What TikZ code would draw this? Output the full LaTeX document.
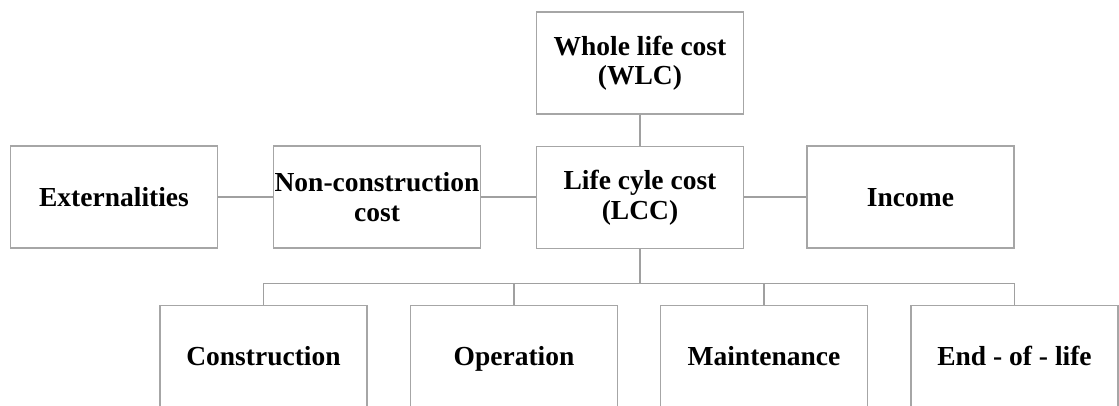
\documentclass[tikz,border=0pt]{standalone}
\usepackage{fontspec}
\setmainfont{Liberation Serif}
\definecolor{edgegray}{HTML}{A6A6A6}
\definecolor{linkgray}{HTML}{A0A0A0}
\tikzset{
  box/.style={draw=edgegray, line width=1.7pt, rectangle, fill=white,
    minimum width=207pt, minimum height=102pt, inner sep=0pt,
    align=center, font=\bfseries\fontsize{27.5}{29.5}\selectfont},
  oneline/.style={box, text height=18.2pt, text depth=0pt},
  link/.style={draw=linkgray, line width=1.7pt}
}
\begin{document}
\begin{tikzpicture}[x=1pt,y=-1pt]
  \clip (0,0) rectangle (1119,405);
  \fill[white] (0,0) rectangle (1119,405);

  % cost hierarchy
  \node[box] (wlc) at (640,63) {Whole life cost\\(WLC)};
  \node[oneline] (ext) at (114,197) {Externalities};
  \node[box] (nc)  at (377,197) {Non-construction\\cost};
  \node[box] (lcc) at (640,197.5) {Life cyle cost\\(LCC)};
  \node[oneline] (inc) at (910.5,197) {Income};

  % life cycle stages
  \node[oneline] (con) at (263.5,356.5) {Construction};
  \node[oneline] (op)  at (514,356.5) {Operation};
  \node[oneline] (mt)  at (764,356.5) {Maintenance};
  \node[oneline] (eol) at (1014.5,356.5) {End - of - life};

  \coordinate (bus) at (640,283.5);

  \draw[link] (wlc.south) -- (lcc.north);
  \draw[link] (ext.east) -- (nc.west);
  \draw[link] (nc.east) -- (nc.east -| lcc.west);
  \draw[link] (lcc.east |- inc.west) -- (inc.west);
  \draw[link] (lcc.south) -- (bus);
  \draw[link] (con.north) |- (bus);
  \draw[link] (op.north) |- (bus);
  \draw[link] (mt.north) |- (bus);
  \draw[link] (eol.north) |- (bus);
\end{tikzpicture}
\end{document}
